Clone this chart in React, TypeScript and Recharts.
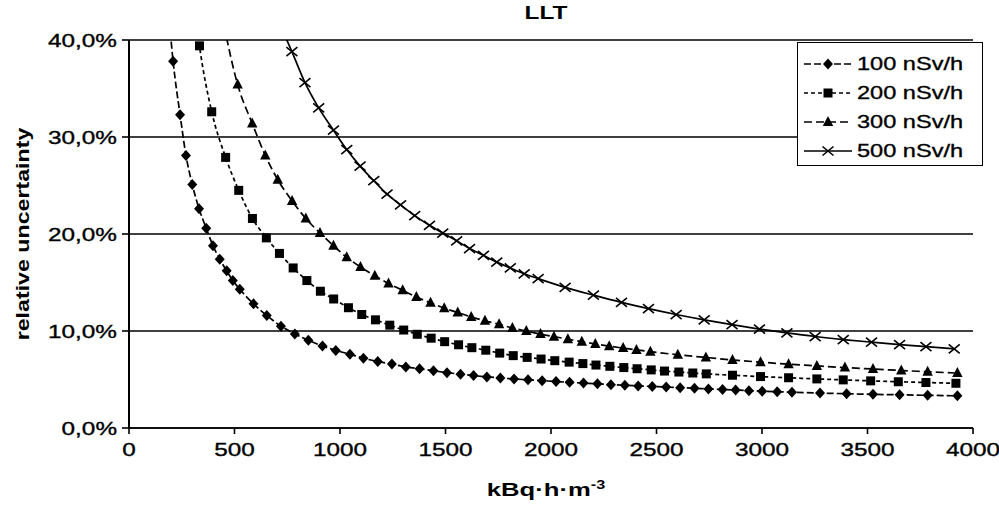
import React from "react";
import { LineChart, Line, XAxis, YAxis, CartesianGrid } from "recharts";

const xTicks = [0, 500, 1000, 1500, 2000, 2500, 3000, 3500, 4000];
const yTicks = [0, 10, 20, 30, 40];

// 100 nSv/h (diamonds)
const x100 = [176, 209, 242, 270, 300, 332, 366, 398, 430, 463, 492, 525, 590, 653, 720, 786, 850, 917, 980, 1047, 1111, 1179, 1246, 1312, 1377, 1443, 1507, 1571, 1633, 1696, 1760, 1825, 1891, 1958, 2024, 2088, 2154, 2220, 2284, 2350, 2413, 2480, 2546, 2612, 2680, 2746, 2813, 2875, 2938, 3001, 3072, 3142, 3275, 3401, 3526, 3652, 3785, 3926];
const y100 = [46, 37.8, 32.3, 28.1, 25.1, 22.6, 20.6, 18.8, 17.4, 16.2, 15.2, 14.3, 12.8, 11.6, 10.5, 9.7, 9.05, 8.45, 8.0, 7.6, 7.2, 6.85, 6.6, 6.3, 6.1, 5.9, 5.7, 5.55, 5.4, 5.27, 5.16, 5.05, 4.97, 4.88, 4.79, 4.71, 4.63, 4.55, 4.47, 4.4, 4.34, 4.28, 4.22, 4.16, 4.1, 4.03, 3.97, 3.91, 3.85, 3.8, 3.74, 3.69, 3.6, 3.53, 3.47, 3.42, 3.37, 3.32];

// 200 nSv/h (squares)
const x200 = [300, 334, 392, 458, 520, 585, 651, 713, 778, 843, 907, 970, 1040, 1103, 1168, 1236, 1302, 1366, 1432, 1496, 1562, 1625, 1691, 1757, 1821, 1887, 1953, 2018, 2086, 2151, 2213, 2279, 2345, 2408, 2475, 2538, 2606, 2672, 2736, 2860, 2993, 3126, 3260, 3385, 3515, 3646, 3777, 3919];
const y200 = [45.5, 39.4, 32.6, 27.9, 24.5, 21.6, 19.6, 18.0, 16.5, 15.2, 14.1, 13.3, 12.4, 11.7, 11.15, 10.6, 10.1, 9.66, 9.26, 8.9, 8.58, 8.28, 8.02, 7.72, 7.46, 7.28, 7.11, 6.94, 6.79, 6.64, 6.49, 6.36, 6.23, 6.11, 5.99, 5.87, 5.77, 5.67, 5.58, 5.44, 5.3, 5.18, 5.06, 4.96, 4.86, 4.77, 4.69, 4.61];

// 300 nSv/h (triangles)
const x300 = [450, 515, 584, 646, 705, 773, 838, 905, 969, 1032, 1097, 1165, 1230, 1297, 1362, 1429, 1494, 1558, 1622, 1687, 1754, 1817, 1883, 1950, 2014, 2080, 2146, 2210, 2276, 2342, 2405, 2471, 2601, 2734, 2860, 2993, 3126, 3260, 3393, 3526, 3660, 3785, 3926];
const y300 = [41.5, 35.4, 31.4, 28.1, 25.6, 23.4, 21.6, 20.1, 18.8, 17.6, 16.6, 15.7, 14.9, 14.2, 13.5, 12.9, 12.35, 11.9, 11.45, 11.05, 10.7, 10.3, 10.0, 9.68, 9.42, 9.16, 8.9, 8.66, 8.44, 8.24, 8.05, 7.87, 7.55, 7.27, 7.02, 6.79, 6.58, 6.4, 6.23, 6.08, 5.93, 5.8, 5.66];

// 500 nSv/h (crosses)
const x500 = [705, 772, 834, 899, 969, 1032, 1095, 1160, 1223, 1287, 1354, 1424, 1487, 1553, 1614, 1680, 1743, 1807, 1873, 1939, 2067, 2201, 2334, 2462, 2593, 2726, 2858, 2988, 3118, 3252, 3385, 3519, 3652, 3777, 3911];
const y500 = [42.1, 38.8, 35.6, 33.0, 30.7, 28.7, 27.0, 25.5, 24.1, 23.0, 21.9, 20.9, 20.1, 19.3, 18.5, 17.8, 17.1, 16.5, 15.9, 15.4, 14.5, 13.7, 12.95, 12.3, 11.7, 11.15, 10.65, 10.2, 9.8, 9.43, 9.12, 8.85, 8.6, 8.38, 8.16];

const toPoints = (xs: number[], ys: number[]) => xs.map((x, i) => ({ x, y: ys[i] }));

const FONT = "'Liberation Sans', Arial, sans-serif";
const STRETCH = 1.28;

const Diamond = ({ cx, cy }: any) => (
  <path d={`M${cx},${cy - 5.5}L${cx + 5},${cy}L${cx},${cy + 5.5}L${cx - 5},${cy}Z`} fill="#000" />
);
const Square = ({ cx, cy }: any) => <rect x={cx - 4.5} y={cy - 4.5} width={9} height={9} fill="#000" />;
const Triangle = ({ cx, cy }: any) => (
  <path d={`M${cx},${cy - 6}L${cx + 5.2},${cy + 4}L${cx - 5.2},${cy + 4}Z`} fill="#000" />
);
const Cross = ({ cx, cy }: any) => (
  <path d={`M${cx - 5.5},${cy - 4.5}L${cx + 5.5},${cy + 4.5}M${cx + 5.5},${cy - 4.5}L${cx - 5.5},${cy + 4.5}`} stroke="#000" strokeWidth={1.6} />
);

const series = [
  { name: "100 nSv/h", data: toPoints(x100, y100), dash: "7 3", Marker: Diamond },
  { name: "200 nSv/h", data: toPoints(x200, y200), dash: "4 3", Marker: Square },
  { name: "300 nSv/h", data: toPoints(x300, y300), dash: "8 4", Marker: Triangle },
  { name: "500 nSv/h", data: toPoints(x500, y500), dash: undefined, Marker: Cross },
];

const YTick = ({ x, y, payload }: any) => (
  <g transform={`translate(${x - 3},${y}) scale(${STRETCH},1)`}>
    <text x={0} y={0} dy="0.36em" textAnchor="end" fontSize={19} fontFamily={FONT} fill="#000" stroke="#000" strokeWidth={0.35}>
      {payload.value.toFixed(1).replace(".", ",") + "%"}
    </text>
  </g>
);

const XTick = ({ x, y, payload }: any) => (
  <g transform={`translate(${x},${y + 20}) scale(${STRETCH},1)`}>
    <text x={0} y={0} textAnchor="middle" fontSize={19} fontFamily={FONT} fill="#000" stroke="#000" strokeWidth={0.35}>
      {payload.value}
    </text>
  </g>
);

const boldText = { fontFamily: FONT, fontWeight: "bold" as const, whiteSpace: "nowrap" as const, position: "absolute" as const };

export default function App() {
  return (
    <div style={{ position: "absolute", left: 0, top: 0, width: 999, height: 508, background: "#fff" }}>
      <LineChart width={999} height={508} margin={{ top: 40, right: 26, bottom: 0, left: 0 }}>
        <CartesianGrid vertical={false} stroke="#000" strokeWidth={1.4} />
        <XAxis
          type="number"
          dataKey="x"
          domain={[0, 4000]}
          ticks={xTicks}
          height={80}
          tick={<XTick />}
          tickLine={{ stroke: "#000", strokeWidth: 1.6 }}
          tickSize={6}
          axisLine={{ stroke: "#000", strokeWidth: 1.6 }}
          allowDataOverflow
        />
        <YAxis
          type="number"
          dataKey="y"
          domain={[0, 40]}
          ticks={yTicks}
          width={129}
          tick={<YTick />}
          tickLine={{ stroke: "#000", strokeWidth: 1.6 }}
          tickSize={7}
          axisLine={{ stroke: "#000", strokeWidth: 2 }}
          allowDataOverflow
        />
        {series.map((s) => (
          <Line
            key={s.name}
            data={s.data}
            dataKey="y"
            name={s.name}
            type="monotone"
            stroke="#000"
            strokeWidth={1.7}
            strokeDasharray={s.dash}
            dot={(p: any) => <s.Marker key={`${s.name}-${p.index}`} cx={p.cx} cy={p.cy} />}
            activeDot={false}
            isAnimationActive={false}
          />
        ))}
      </LineChart>

      <div style={{ ...boldText, left: 546, top: 2, fontSize: 19, transform: `translateX(-50%) scaleX(${STRETCH})` }}>
        LLT
      </div>
      <div style={{ ...boldText, left: 23, top: 234, fontSize: 19, transform: `translate(-50%,-50%) rotate(-90deg) scaleX(1.22)` }}>
        relative uncertainty
      </div>
      <div style={{ ...boldText, left: 546, top: 478, fontSize: 19, transform: `translateX(-50%) scaleX(1.35)` }}>
        kBq·h·m<sup style={{ fontSize: 12 }}>-3</sup>
      </div>

      <div style={{ position: "absolute", left: 797, top: 42, width: 186, height: 124, border: "1.5px solid #000", background: "#fff", boxSizing: "border-box" }}>
        {series.map((s, i) => (
          <div key={s.name} style={{ position: "absolute", left: 4, top: 9 + i * 29, height: 24, display: "flex", alignItems: "center" }}>
            <svg width={52} height={20}>
              <line x1={2} y1={10} x2={50} y2={10} stroke="#000" strokeWidth={1.6} strokeDasharray={s.dash} />
              <s.Marker cx={26} cy={10} />
            </svg>
            <span style={{ fontFamily: FONT, fontSize: 19, marginLeft: 3, display: "inline-block", transform: `scaleX(1.24)`, transformOrigin: "left center", whiteSpace: "nowrap", WebkitTextStroke: "0.35px #000" }}>
              {s.name}
            </span>
          </div>
        ))}
      </div>
    </div>
  );
}
